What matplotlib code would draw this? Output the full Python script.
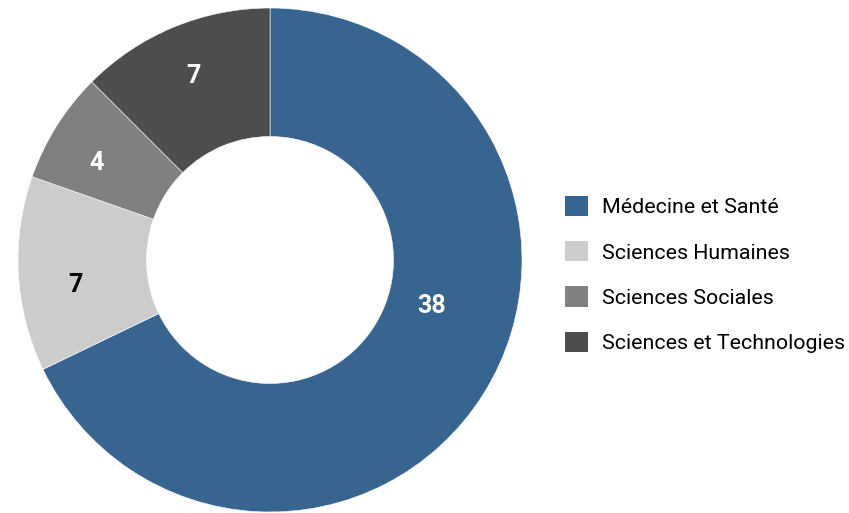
import numpy as np
import matplotlib.pyplot as plt

plt.rcParams['font.family'] = ['Roboto', 'DejaVu Sans']

# --- Data ---
categories = ["Médecine et Santé", "Sciences Humaines", "Sciences Sociales", "Sciences et Technologies"]
values = [38, 7, 4, 7]
colors = ["#386590", "#cccccc", "#808080", "#4d4d4d"]
label_colors = ["white", "black", "white", "white"]

fig = plt.figure(figsize=(8.49, 5.13), dpi=100)
ax = fig.add_axes([18 / 849, 1 / 513, 504 / 849, 504 / 513])

wedges, _ = ax.pie(values, colors=colors, startangle=90, counterclock=False,
                   radius=1.0, wedgeprops=dict(width=0.51, edgecolor="white", linewidth=0.4))
ax.set_xlim(-1, 1)
ax.set_ylim(-1, 1)
ax.set_aspect("equal")

# value labels inside each ring segment (small nudges to follow the original)
angle_shift = [0, 4, 3, 0]
radius = [0.665, 0.78, 0.79, 0.79]
for i, (w, v) in enumerate(zip(wedges, values)):
    mid = (w.theta1 + w.theta2) / 2 + angle_shift[i]
    if i == 0:
        mid = -16  # big segment: label sits nearer the right side
    a = np.deg2rad(mid)
    ax.text(radius[i] * np.cos(a), radius[i] * np.sin(a), str(v), ha="center", va="center",
            fontsize=18, fontweight="bold", color=label_colors[i])

leg = fig.legend(wedges, categories, loc="center left",
                 bbox_to_anchor=(565 / 849, 1 - 274.5 / 513),
                 frameon=False, fontsize=15.4, handlelength=1.07, handleheight=1.07,
                 handletextpad=0.65, labelspacing=1.12, borderpad=0, borderaxespad=0)
for h in leg.legend_handles:
    h.set_edgecolor("none")

fig.savefig("out.png", dpi=100)
